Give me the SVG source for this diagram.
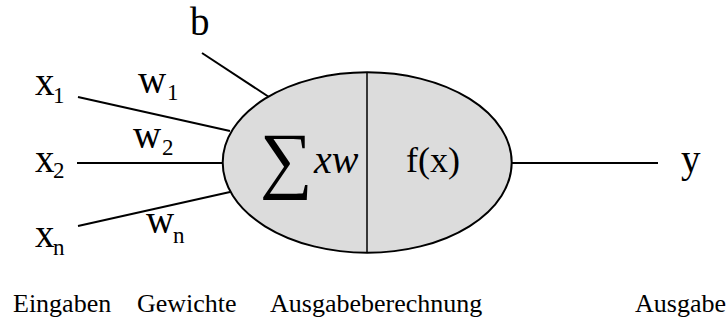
<svg xmlns="http://www.w3.org/2000/svg" width="728" height="325" viewBox="0 0 728 325">
<style>
text{font-family:'Liberation Serif','DejaVu Serif','Times New Roman',serif;fill:#000}
.m{font-size:39px}
.s{font-size:23px}
.cap{font-size:26px}
.edge{stroke:#000;stroke-width:2;fill:none}
</style>
<rect width="728" height="325" fill="#fff"/>
<g id="connectors">
<line class="edge" x1="202" y1="53" x2="269" y2="97"/>
<line class="edge" x1="78" y1="97" x2="230" y2="131"/>
<line class="edge" x1="77" y1="163" x2="223" y2="163"/>
<line class="edge" x1="78" y1="226" x2="230" y2="192"/>
<line class="edge" x1="512" y1="163" x2="658" y2="163"/>
</g>
<g id="neuron">
<ellipse cx="367.2" cy="162.5" rx="144.5" ry="90.2" fill="#dcdcdc" stroke="#000" stroke-width="2"/>
<line x1="367" y1="72.5" x2="367" y2="252.5" stroke="#000" stroke-width="1.5"/>
<text x="260" y="184" font-size="74" font-family="'Liberation Serif','DejaVu Serif',serif">∑</text>
<text x="314" y="173" font-size="40" font-style="italic" font-family="'Liberation Serif','DejaVu Serif',serif">xw</text>
<text x="406" y="172" font-size="36" font-family="'Liberation Serif','DejaVu Serif',serif">f(x)</text>
</g>
<g id="bias"><text class="m" x="190" y="35">b</text></g>
<g id="input-x1"><text class="m" x="35" y="95">x<tspan class="s" x="53" y="103">1</tspan></text></g>
<g id="input-x2"><text class="m" x="35" y="172">x<tspan class="s" x="53" y="178">2</tspan></text></g>
<g id="input-xn"><text class="m" x="35" y="247">x<tspan class="s" x="53" y="255">n</tspan></text></g>
<g id="weight-w1"><text class="m" x="138" y="93">w<tspan class="s" x="167" y="100">1</tspan></text></g>
<g id="weight-w2"><text class="m" x="133" y="148">w<tspan class="s" x="162" y="155">2</tspan></text></g>
<g id="weight-wn"><text class="m" x="146" y="233">w<tspan class="s" x="173" y="243">n</tspan></text></g>
<g id="output-y"><text class="m" x="681" y="172">y</text></g>
<g id="captions">
<text class="cap" x="13" y="312">Eingaben</text>
<text class="cap" x="137" y="312">Gewichte</text>
<text class="cap" x="270" y="312">Ausgabeberechnung</text>
<text class="cap" x="635" y="312">Ausgabe</text>
</g>
</svg>
